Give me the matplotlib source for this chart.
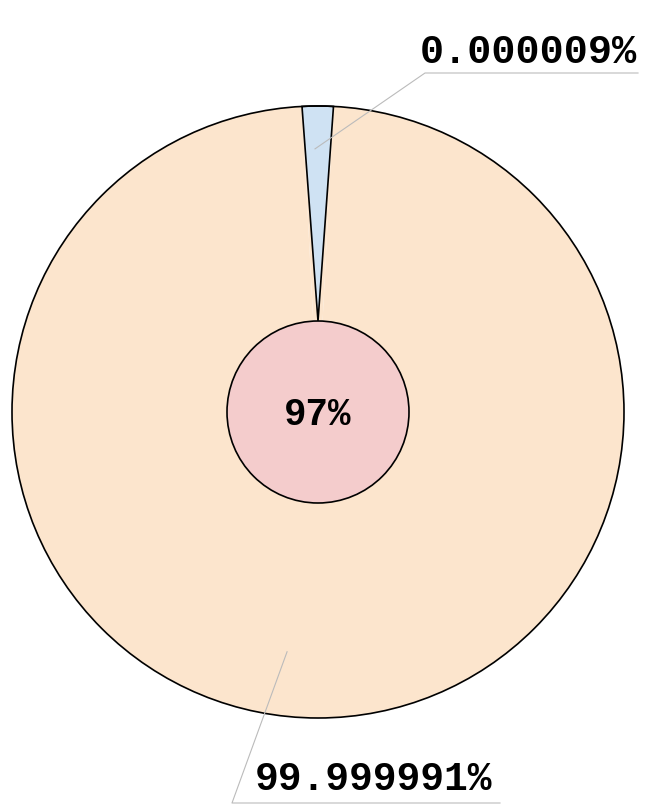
import numpy as np
import matplotlib.pyplot as plt
from matplotlib.patches import Circle, Wedge, Polygon

# 数据
labels = ['0.000009%', '99.999991%']
values = [0.000009, 99.999991]
colors = ['#cfe2f3', '#fce5cd']
center_label = '97%'
min_angle = 6.0  # 极小扇区的最小显示角度（度）

W, H = 646, 811
fig = plt.figure(figsize=(W / 100, H / 100), dpi=100)
ax = fig.add_axes([0, 0, 1, 1])

# 显示用的扇区大小：小扇区至少 min_angle 度
vals = np.array(values, dtype=float)
frac = vals / vals.sum()
disp = np.maximum(frac, min_angle / 360)
disp = disp / disp.sum()

cx, cy, R, r_in = 318, H - 412, 306, 91
wedges, _ = ax.pie(disp, colors=colors, startangle=90 + min_angle / 2,
                   counterclock=False, center=(cx, cy), radius=R,
                   wedgeprops=dict(linewidth=0))
ax.set_xlim(0, W)
ax.set_ylim(0, H)
ax.set_aspect('equal')
ax.axis('off')

# 小扇区：尖端收在内圆顶部
w = wedges[0]
w.set_visible(False)
ax.add_patch(Wedge((cx, cy), R, w.theta1, w.theta2, facecolor=colors[1],
                   linewidth=0))
t = np.deg2rad(np.linspace(w.theta1, w.theta2, 30))
pts = [(cx, cy + r_in)] + list(zip(cx + R * np.cos(t), cy + R * np.sin(t)))
ax.add_patch(Polygon(pts, closed=True, facecolor=colors[0],
                     edgecolor='black', linewidth=1.2, zorder=2))
ax.add_patch(Circle((cx, cy), R, fill=False, edgecolor='black',
                    linewidth=1.2, zorder=2))

ax.add_patch(Circle((cx, cy), r_in, facecolor='#f4cccc', edgecolor='black',
                    linewidth=1.2, zorder=3))
ax.text(cx, cy - 3, center_label, ha='center', va='center', fontsize=27,
        fontweight='bold', family='Liberation Mono', zorder=4)

# 引线与标签
leaders = [
    # (角度偏移, 半径比例, 拐点, 线终点x, 文字x, 文字基线y, 字号)
    (0.6, 0.86, (425, H - 73), 638, 420, H - 63, 29),
    (-7.4, 0.79, (232, H - 803), 500, 255, H - 790, 28.5),
]
for w, lab, (da, rf, elbow, xend, tx, ty, fs) in zip(wedges, labels, leaders):
    mid = np.deg2rad((w.theta1 + w.theta2) / 2 + da)
    px, py = cx + rf * R * np.cos(mid), cy + rf * R * np.sin(mid)
    ax.plot([px, elbow[0], xend], [py, elbow[1], elbow[1]],
            color='#bbbbbb', linewidth=0.8, zorder=5)
    ax.text(tx, ty, lab, ha='left', va='baseline', fontsize=fs,
            fontweight='bold', family='Liberation Mono')

fig.savefig('out.png', dpi=100)
